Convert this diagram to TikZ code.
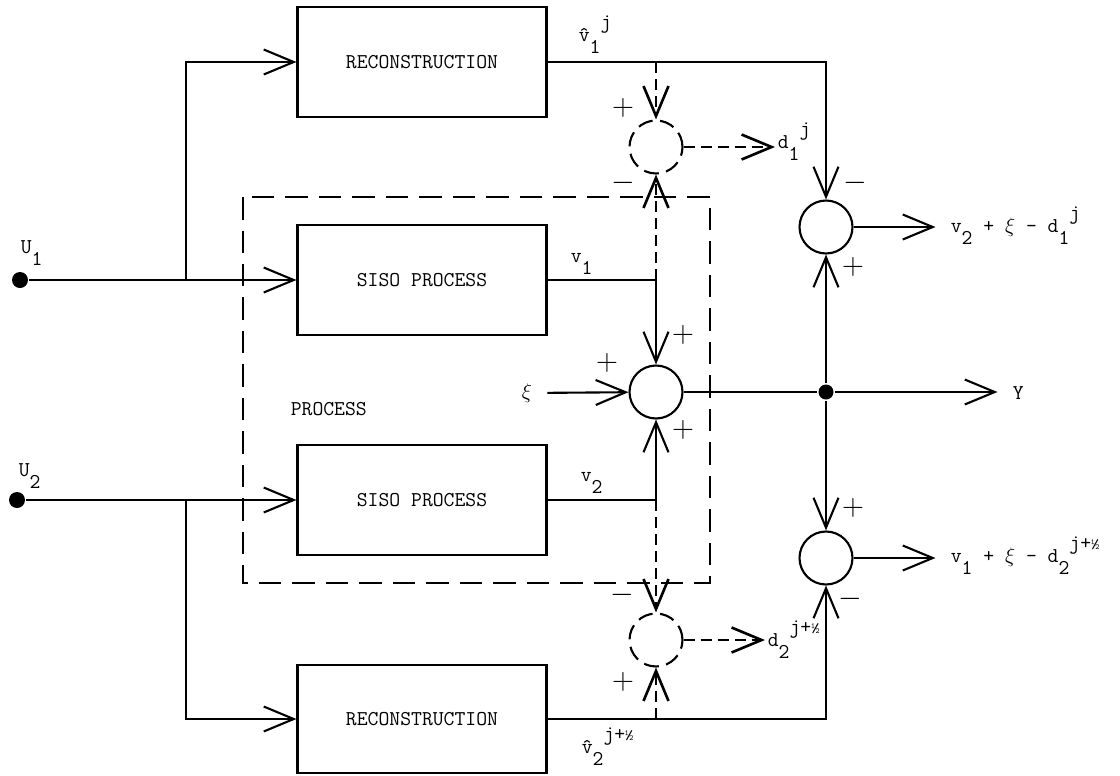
\documentclass[tikz,border=0pt]{standalone}
\usetikzlibrary{positioning, arrows.meta}

% lowered / raised indices, typewriter style
\newcommand{\subtt}[1]{\raisebox{-7pt}{#1}}
\newcommand{\suptt}[1]{\raisebox{7pt}{#1}}
\newcommand{\halftt}{{\fontsize{9}{9}\selectfont\textonehalf}}

\begin{document}
\begin{tikzpicture}[x=0.02cm, y=-0.02cm, line width=1.2pt,
  >={Straight Barb[length=0.6cm,width=0.5cm]},
  txt/.style={font=\fontsize{12}{14}\ttfamily, inner sep=1pt},
  block/.style={draw, txt, minimum width=4.98cm, minimum height=2.2cm},
  sumpt/.style={draw, circle, minimum size=1.06cm, inner sep=0pt},
  dsum/.style={sumpt, dash pattern=on 0.3cm off 0.15cm},
  flow/.style={dash pattern=on 0.22cm off 0.12cm, line width=1.5pt},
  sign/.style={font=\fontsize{17}{17}\selectfont, inner sep=0pt},
  dot/.style={circle, fill, minimum size=0.32cm, inner sep=0pt}]

\useasboundingbox (0,0) rectangle (1120,775);

% Process boundary
\draw[dash pattern=on 0.45cm off 0.22cm, line width=0.9pt] (243,197) rectangle (710,583);
\node[txt, anchor=base west] (proclbl) at (288,415) {PROCESS};

% Blocks
\node[block] (rec1) at (422,62) {RECONSTRUCTION};
\node[block] (siso1) at (422,280) {SISO PROCESS};
\node[block] (siso2) at (422,500) {SISO PROCESS};
\node[block, minimum height=2.16cm] (rec2) at (422,719) {RECONSTRUCTION};

% Inputs
\node[dot] (u1) at (20,280) {};
\node[dot] (u2) at (17,500) {};
\node[txt, anchor=base west] (u1lbl) at (18,253) {U\subtt{1}};
\node[txt, anchor=base west] (u2lbl) at (16,476) {U\subtt{2}};
\coordinate (b1) at (186,280);
\coordinate (b2) at (186,500);
\draw[->] (u1) -- (siso1.west);
\draw[->] (b1) |- (rec1.west);
\draw[->] (u2) -- (siso2.west);
\draw[->] (b2) |- (rec2.west);

% Summing points
\node[sumpt] (s0) at (656,392) {};
\node[dsum] (dt) at (656,147) {};
\node[dsum] (db) at (656,640) {};
\node[sumpt] (r1) at (826,227) {};
\node[sumpt] (r2) at (826,558) {};
\node[dot, minimum size=0.3cm] (jn) at (826,392) {};

% Process outputs
\node[txt, anchor=base west] (v1lbl) at (568,262) {v\subtt{1}};
\node[txt, anchor=base west] (v2lbl) at (578,481) {v\subtt{2}};
\draw[->] (siso1.east) -| (s0.north);
\draw[->] (siso2.east) -| (s0.south);
\node[txt] (xi) at (527,393) {$\xi$};
\draw[->, shorten <=0.25cm] (xi) -- (s0);
\draw (s0) -- (jn);
\node[txt, anchor=base west] (yout) at (1010,399) {Y};
\draw[->, shorten >=0.25cm] (jn) -- (jn -| yout.west);

% Reconstructed outputs
\node[txt, anchor=base west] (v1hat) at (576,41) {\^{v}\subtt{1}\suptt{j}};
\node[txt, anchor=base west] (v2hat) at (579,753) {\^{v}\subtt{2}\suptt{j+\halftt}};
\draw[->] (jn) -- (r1);
\draw[->] (jn) -- (r2);
\draw[->] (rec1.east) -| (r1.north);
\draw[->] (rec2.east) -| (r2.south);
\node[txt, anchor=base west] (o1) at (948,232) {v\subtt{2} + $\xi$ - d\subtt{1}\suptt{j}};
\node[txt, anchor=base west] (o2) at (948,562) {v\subtt{1} + $\xi$ - d\subtt{2}\suptt{j+\halftt}};
\draw[->, shorten >=0.25cm] (r1) -- (r1 -| o1.west);
\draw[->, shorten >=0.25cm] (r2) -- (r2 -| o2.west);

% Disturbance estimates
\draw[flow, ->] (rec1.east -| dt) -- (dt);
\draw[flow, ->] (siso1.east -| dt) -- (dt);
\node[txt, anchor=base west] (d1) at (775,148) {d\subtt{1}\suptt{j}};
\draw[flow, ->] (dt) -- (dt -| d1.west);
\draw[flow, ->] (siso2.east -| db) -- (db);
\draw[flow, ->] (rec2.east -| db) -- (db);
\node[txt, anchor=base west] (d2) at (765,646) {d\subtt{2}\suptt{j+\halftt}};
\draw[flow, ->] (db) -- (db -| d2.west);

% Signs
\node[sign] (pdt) at (623,108) {$+$};
\node[sign] (mdt) at (623,183) {$-$};
\node[sign] (pxi) at (607,363) {$+$};
\node[sign] (pv1) at (683,335) {$+$};
\node[sign] (pv2) at (683,430) {$+$};
\node[sign] (mr1) at (855,183) {$-$};
\node[sign] (pr1) at (853,267) {$+$};
\node[sign] (pr2) at (853,508) {$+$};
\node[sign] (mr2) at (850,599) {$-$};
\node[sign] (mdb) at (622,595) {$-$};
\node[sign] (pdb) at (623,682) {$+$};
\end{tikzpicture}
\end{document}
